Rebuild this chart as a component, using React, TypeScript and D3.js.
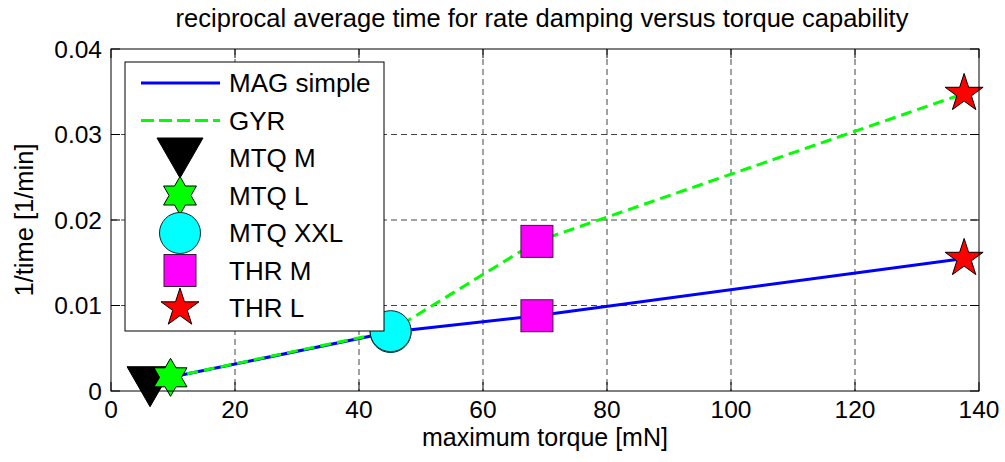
import React from "react";
import * as d3 from "d3";

// Torque capability [mN] and reciprocal damping time [1/min]
const magX = [9.6, 45.1, 68.7, 137.6];
const magY = [0.0016, 0.0069, 0.0088, 0.0155];
const gyrX = [9.6, 45.1, 68.7, 137.6];
const gyrY = [0.0016, 0.0070, 0.0175, 0.0348];

const mtqMX = [6.3];
const mtqMY = [0.0005];
const mtqLX = [9.6];
const mtqLY = [0.0016];
const mtqXXLX = [45.1, 45.1];
const mtqXXLY = [0.0069, 0.0070];
const thrMX = [68.7, 68.7];
const thrMY = [0.0088, 0.0175];
const thrLX = [137.6, 137.6];
const thrLY = [0.0155, 0.0348];

const xTicks = [0, 20, 40, 60, 80, 100, 120, 140];
const yTicks = [0, 0.01, 0.02, 0.03, 0.04];
const yTickLabels = ["0", "0.01", "0.02", "0.03", "0.04"];

const legendLabels = ["MAG simple", "GYR", "MTQ M", "MTQ L", "MTQ XXL", "THR M", "THR L"];

const W = 1005;
const H = 462;
const L = 111, R = 979, T = 49, B = 391;
const FONT = "'Liberation Sans', Arial, Helvetica, sans-serif";
const FS = 25.5;
const TICK_FS = 24.5;

type Kind = "tri" | "hex" | "circ" | "sq" | "pent";

function starPath(cx: number, cy: number, rOut: number, rIn: number, n: number) {
  const pts: string[] = [];
  for (let i = 0; i < 2 * n; i++) {
    const r = i % 2 === 0 ? rOut : rIn;
    const a = -Math.PI / 2 + (i * Math.PI) / n;
    pts.push(`${(cx + r * Math.cos(a)).toFixed(2)},${(cy + r * Math.sin(a)).toFixed(2)}`);
  }
  return "M" + pts.join("L") + "Z";
}

function Marker({ kind, cx, cy }: { kind: Kind; cx: number; cy: number }) {
  switch (kind) {
    case "tri": {
      const w = 23, h = 20;
      return (
        <path
          d={`M${cx - w},${cy - h}L${cx + w},${cy - h}L${cx},${cy + h}Z`}
          fill="#000"
          stroke="#000"
          strokeWidth={1}
        />
      );
    }
    case "hex":
      return <path d={starPath(cx, cy, 19, 19 / Math.sqrt(3), 6)} fill="#00ff00" stroke="#000" strokeWidth={1} />;
    case "circ":
      return <circle cx={cx} cy={cy} r={20.5} fill="#00ffff" stroke="#0a2a2a" strokeWidth={1} />;
    case "sq":
      return <rect x={cx - 16} y={cy - 16} width={32} height={32} fill="#ff00ff" stroke="#3a1a3a" strokeWidth={1} />;
    case "pent":
      return <path d={starPath(cx, cy, 20, 20 * 0.382, 5)} fill="#ff0000" stroke="#000" strokeWidth={1} />;
  }
}

export default function App() {
  const x = d3.scaleLinear().domain([0, 140]).range([L, R]);
  const y = d3.scaleLinear().domain([0, 0.04]).range([B, T]);

  const line = (xs: number[], ys: number[]) =>
    d3.line<number>().x((_, i) => x(xs[i])).y((v) => y(v))(ys) || "";

  const markerSets: { kind: Kind; xs: number[]; ys: number[] }[] = [
    { kind: "tri", xs: mtqMX, ys: mtqMY },
    { kind: "hex", xs: mtqLX, ys: mtqLY },
    { kind: "circ", xs: mtqXXLX, ys: mtqXXLY },
    { kind: "sq", xs: thrMX, ys: thrMY },
    { kind: "pent", xs: thrLX, ys: thrLY },
  ];

  const tickLen = 9;
  const gridColor = "#444";

  // Legend layout
  const lgX = 125, lgY = 62, lgW = 259, lgH = 269;
  const rowY0 = 83, rowStep = 37.5;

  return (
    <svg
      width={W}
      height={H}
      style={{ position: "absolute", left: 0, top: 0, display: "block", background: "#fff" }}
      fontFamily={FONT}
    >
      <rect x={0} y={0} width={W} height={H} fill="#fff" />
      {/* grid */}
      {xTicks.slice(1, -1).map((t) => (
        <line key={"gx" + t} x1={x(t)} x2={x(t)} y1={T} y2={B} stroke={gridColor} strokeWidth={1} strokeDasharray="6,4" />
      ))}
      {yTicks.slice(1, -1).map((t) => (
        <line key={"gy" + t} x1={L} x2={R} y1={y(t)} y2={y(t)} stroke={gridColor} strokeWidth={1} strokeDasharray="6,4" />
      ))}
      {/* ticks on all sides */}
      {xTicks.map((t) => (
        <g key={"tx" + t}>
          <line x1={x(t)} x2={x(t)} y1={B} y2={B - tickLen} stroke="#000" />
          <line x1={x(t)} x2={x(t)} y1={T} y2={T + tickLen} stroke="#000" />
        </g>
      ))}
      {yTicks.map((t) => (
        <g key={"ty" + t}>
          <line x1={L} x2={L + tickLen} y1={y(t)} y2={y(t)} stroke="#000" />
          <line x1={R} x2={R - tickLen} y1={y(t)} y2={y(t)} stroke="#000" />
        </g>
      ))}
      {/* series lines */}
      <path d={line(magX, magY)} fill="none" stroke="#0000ff" strokeWidth={3} />
      <path d={line(gyrX, gyrY)} fill="none" stroke="#00ff00" strokeWidth={3} strokeDasharray="11,6" />
      {/* markers */}
      {markerSets.map((m) =>
        m.xs.map((xv, i) => <Marker key={m.kind + i} kind={m.kind} cx={x(xv)} cy={y(m.ys[i])} />)
      )}
      {/* axes box */}
      <rect x={L} y={T} width={R - L} height={B - T} fill="none" stroke="#000" strokeWidth={1} />
      {/* tick labels */}
      {xTicks.map((t) => (
        <text key={"lx" + t} x={x(t)} y={418} textAnchor="middle" fontSize={TICK_FS} fill="#000">
          {t}
        </text>
      ))}
      {yTicks.map((t, i) => (
        <text key={"ly" + t} x={102} y={y(t)} dy="0.36em" textAnchor="end" fontSize={TICK_FS} fill="#000">
          {yTickLabels[i]}
        </text>
      ))}
      {/* axis labels and title */}
      <text x={(L + R) / 2} y={446} textAnchor="middle" fontSize={25} fill="#000">
        maximum torque [mN]
      </text>
      <text
        transform={`translate(33,${(T + B) / 2}) rotate(-90)`}
        textAnchor="middle"
        fontSize={FS}
        fill="#000"
      >
        1/time [1/min]
      </text>
      <text x={(L + R) / 2 - 3} y={27} textAnchor="middle" fontSize={FS} fill="#000">
        reciprocal average time for rate damping versus torque capability
      </text>
      {/* legend */}
      <rect x={lgX} y={lgY} width={lgW} height={lgH} fill="#fff" stroke="#000" strokeWidth={1} />
      <line x1={141} x2={220} y1={rowY0} y2={rowY0} stroke="#0000ff" strokeWidth={3} />
      <line x1={141} x2={220} y1={rowY0 + rowStep} y2={rowY0 + rowStep} stroke="#00ff00" strokeWidth={3} strokeDasharray="13,5" />
      {markerSets.map((m, i) => (
        <Marker key={"lm" + i} kind={m.kind} cx={180} cy={rowY0 + rowStep * (i + 2)} />
      ))}
      {legendLabels.map((s, i) => (
        <text key={"lt" + i} x={229} y={rowY0 + rowStep * i} dy="0.36em" fontSize={26} fill="#000">
          {s}
        </text>
      ))}
    </svg>
  );
}
